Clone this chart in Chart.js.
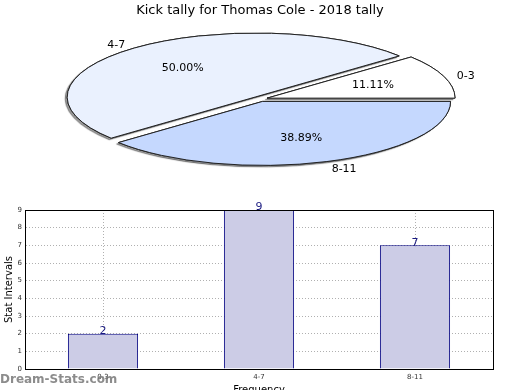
<!DOCTYPE html>
<html>
<head>
<meta charset="utf-8">
<script src="https://cdn.jsdelivr.net/npm/chart.js@4.4.1/dist/chart.umd.min.js"></script>
<style>
  html, body { margin: 0; padding: 0; width: 520px; height: 390px; overflow: hidden; background: #fff; }
  #pieWrap { position: absolute; left: 0; top: 0; width: 520px; height: 190px; }
  #barWrap { position: absolute; left: 0; top: 190px; width: 520px; height: 210px; }
  #wm { position: absolute; left: 0; top: 372px; font: bold 12px "DejaVu Sans", sans-serif; color: rgba(120,120,120,0.85); white-space: nowrap; }
</style>
</head>
<body>
<div id="pieWrap"><canvas id="pie" width="520" height="190"></canvas></div>
<div id="barWrap"><canvas id="bar" width="520" height="210"></canvas></div>
<div id="wm">Dream-Stats.com</div>
<script>
// ---- data ----
const title = "Kick tally for Thomas Cole - 2018 tally";
const categories = ["0-3", "4-7", "8-11"];
const counts = [2, 9, 7];
const yTicks = [0, 1, 2, 3, 4, 5, 6, 7, 8, 9];
const sliceColors = ["#ffffff", "#eaf1fe", "#c5d8fe"];
const xAxisTitle = "Frequency";
const yAxisTitle = "Stat Intervals";

const FONT = '"DejaVu Sans", sans-serif';

// ---- pie geometry (screen) ----
const PIE_CX = 260, PIE_CY = 99, PIE_R = 188, PIE_RY = 64, EXPLODE = 7.5;
const K = PIE_RY / PIE_R;
const total = counts.reduce((a, b) => a + b, 0);

// pie is drawn counter-clockwise (mirrored) and squashed into an ellipse
const ellipsePie = {
  id: 'ellipsePie',
  beforeDatasetsDraw(chart) {
    const meta = chart.getDatasetMeta(0);
    const ctx = chart.ctx;
    const a0 = meta.data[0];
    const origStroke = ctx.stroke;
    ctx.stroke = function () {
      this.save();
      this.setTransform(1, 0, 0, 1, 0, 0);
      origStroke.call(this);
      this.restore();
    };
    const drawAll = () => {
      meta.data.forEach(arc => {
        const mid = (arc.startAngle + arc.endAngle) / 2;
        ctx.save();
        ctx.translate(PIE_CX, PIE_CY);
        ctx.scale(-1, K);
        ctx.translate(-a0.x, -a0.y);
        ctx.translate(Math.cos(mid) * EXPLODE, Math.sin(mid) * EXPLODE);
        arc.draw(ctx);
        ctx.restore();
      });
    };
    // shadow pass
    ctx.save();
    ctx.shadowColor = 'rgba(0,0,0,0.4)';
    ctx.shadowOffsetX = -2;
    ctx.shadowOffsetY = 1.5;
    ctx.shadowBlur = 1;
    drawAll();
    ctx.restore();
    // main pass
    drawAll();
    delete ctx.stroke;
    // labels
    ctx.save();
    ctx.fillStyle = '#000';
    ctx.font = '11px ' + FONT;
    ctx.textBaseline = 'middle';
    meta.data.forEach((arc, i) => {
      const mid = (arc.startAngle + arc.endAngle) / 2;
      const c = -Math.cos(mid), s = Math.sin(mid);
      const ex = c * EXPLODE, ey = s * EXPLODE * K;
      const pct = (counts[i] / total * 100).toFixed(2) + '%';
      ctx.textAlign = 'center';
      ctx.fillText(pct, PIE_CX + ex + c * PIE_R * 0.6, PIE_CY + 0.5 + ey + s * PIE_RY * 0.6);
      ctx.textAlign = c >= 0 ? 'left' : 'right';
      ctx.fillText(categories[i], PIE_CX + ex + c * (PIE_R + 14), PIE_CY + 1.5 + ey + s * (PIE_RY + 6));
    });
    ctx.restore();
    return false;
  }
};

new Chart(document.getElementById('pie'), {
  type: 'pie',
  data: {
    labels: categories,
    datasets: [{
      data: counts,
      backgroundColor: sliceColors,
      borderColor: '#222',
      borderWidth: 1
    }]
  },
  options: {
    responsive: false,
    animation: false,
    rotation: 270,
    radius: PIE_R,
    layout: { padding: 0 },
    plugins: {
      legend: { display: false },
      tooltip: { enabled: false },
      title: {
        display: true,
        text: title,
        color: '#000',
        font: { family: FONT, size: 13, weight: 'normal' },
        padding: { top: 3, bottom: 0 }
      }
    }
  },
  plugins: [ellipsePie]
});

// ---- bar chart ----
const barExtras = {
  id: 'barExtras',
  afterDatasetsDraw(chart) {
    const ctx = chart.ctx;
    const a = chart.chartArea;
    ctx.save();
    ctx.strokeStyle = '#000';
    ctx.lineWidth = 1;
    ctx.strokeRect(Math.round(a.left) + 0.5, Math.round(a.top) + 0.5, Math.round(a.right - a.left), Math.round(a.bottom - a.top));
    const meta = chart.getDatasetMeta(0);
    ctx.fillStyle = '#1a1a80';
    ctx.font = '11px ' + FONT;
    ctx.textAlign = 'center';
    ctx.textBaseline = 'bottom';
    meta.data.forEach((bar, i) => {
      ctx.fillText(String(counts[i]), bar.x, bar.y + 3);
    });
    ctx.restore();
  }
};

new Chart(document.getElementById('bar'), {
  type: 'bar',
  data: {
    labels: categories,
    datasets: [{
      data: counts,
      backgroundColor: '#ccccE6',
      borderColor: '#000080',
      borderWidth: 1,
      categoryPercentage: 1,
      barPercentage: 0.45
    }]
  },
  options: {
    responsive: false,
    animation: false,
    layout: { padding: { left: 0, right: 27, top: 20, bottom: 0 } },
    plugins: {
      legend: { display: false },
      tooltip: { enabled: false }
    },
    scales: {
      x: {
        offset: true,
        grid: { offset: false, color: '#b0b0b0', drawTicks: false, lineWidth: 1 },
        border: { display: true, color: '#000', dash: [1, 2] },
        ticks: { color: '#333', font: { family: FONT, size: 7 }, padding: 4, maxRotation: 0 },
        title: { display: true, text: xAxisTitle, color: '#000', font: { family: FONT, size: 10 }, padding: { top: 0, bottom: 4 } },
        afterFit(scale) { scale.height = 31; }
      },
      y: {
        min: yTicks[0],
        max: yTicks[yTicks.length - 1],
        afterBuildTicks(scale) { scale.ticks = yTicks.map(v => ({ value: v })); },
        grid: { color: '#b0b0b0', drawTicks: false, lineWidth: 1 },
        border: { display: true, color: '#000', dash: [1, 2] },
        ticks: { color: '#333', font: { family: FONT, size: 7 }, padding: 3 },
        title: { display: true, text: yAxisTitle, color: '#000', font: { family: FONT, size: 10 }, padding: { top: 3, bottom: 0 } },
        afterFit(scale) { scale.width = 25; }
      }
    }
  },
  plugins: [barExtras]
});
</script>
</body>
</html>
